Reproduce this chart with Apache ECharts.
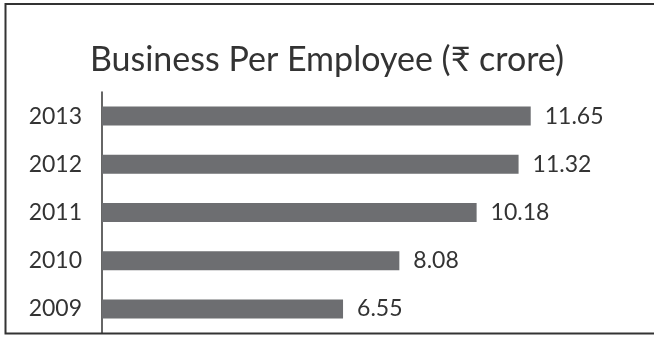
<!DOCTYPE html>
<html>
<head>
<meta charset="utf-8">
<script src="https://cdn.jsdelivr.net/npm/echarts@6/dist/echarts.min.js"></script>
<style>
  html, body { margin: 0; padding: 0; background: #fff; }
  #chart { width: 654px; height: 338px; }
</style>
</head>
<body>
<div id="chart"></div>
<script>
// 年份 (从下到上)
var years = ['2009', '2010', '2011', '2012', '2013']
var businessPerEmployee = [6.55, 8.08, 10.18, 11.32, 11.65]
var titleText = 'Business Per Employee (₹ crore)'

var chart = echarts.init(document.getElementById('chart'))
chart.setOption({
  animation: false,
  title: {
    text: titleText,
    left: 322,
    textAlign: 'center',
    top: 38,
    textStyle: {
      fontFamily: 'Lato, "Noto Sans", sans-serif',
      fontSize: 34,
      fontWeight: 'normal',
      color: '#333'
    }
  },
  grid: {
    left: 102,
    top: 92,
    width: 558,
    height: 241
  },
  xAxis: {
    type: 'value',
    min: 0,
    max: 15,
    show: false
  },
  yAxis: {
    type: 'category',
    data: years,
    axisLine: { lineStyle: { color: '#333', width: 1.5 } },
    axisTick: { length: 6, lineStyle: { color: '#333', width: 1.5 } },
    axisLabel: {
      margin: 20,
      fontFamily: 'Lato, "Noto Sans", sans-serif',
      fontSize: 23,
      color: '#333'
    }
  },
  series: [
    {
      type: 'bar',
      data: businessPerEmployee,
      barWidth: 19,
      itemStyle: { color: '#6d6e71' },
      label: {
        show: true,
        position: 'right',
        distance: 14,
        fontFamily: 'Lato, "Noto Sans", sans-serif',
        fontSize: 23,
        color: '#333',
        formatter: function (p) {
          return p.value.toFixed(2)
        }
      }
    }
  ],
  graphic: [
    {
      type: 'polyline',
      shape: { points: [[660, 4], [5.5, 4], [5.5, 333.5], [660, 333.5]] },
      style: { fill: null, stroke: '#333', lineWidth: 2 }
    }
  ]
})
</script>
</body>
</html>
